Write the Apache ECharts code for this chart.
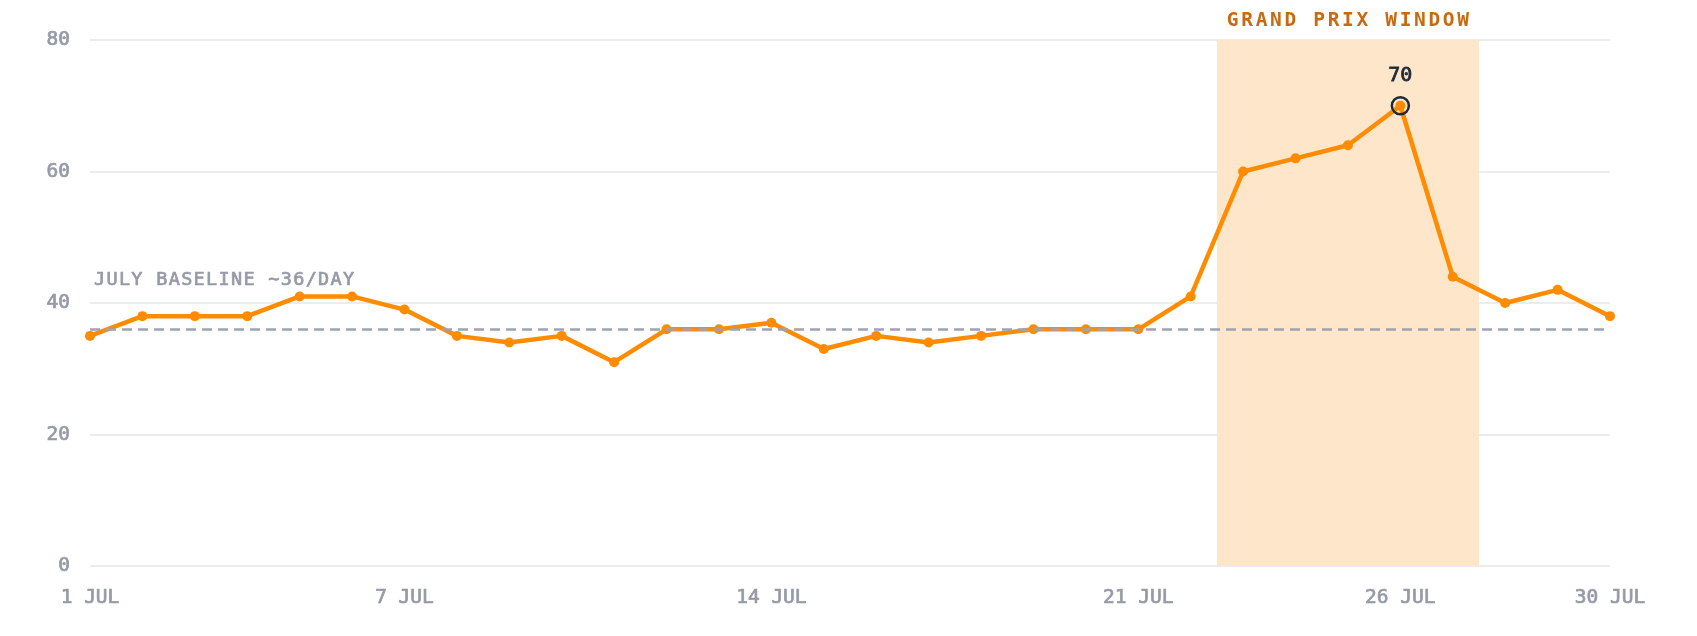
<!DOCTYPE html>
<html>
<head>
<meta charset="utf-8">
<script src="https://cdn.jsdelivr.net/npm/echarts@6/dist/echarts.min.js"></script>
<style>
  html, body { margin: 0; padding: 0; background: #ffffff; }
  #chart { width: 1697px; height: 636px; }
</style>
</head>
<body>
<div id="chart"></div>
<script>
// ---- Data ----
const days = [1, 2, 3, 4, 5, 6, 7, 8, 9, 10, 11, 12, 13, 14, 15, 16, 17, 18, 19, 20, 21, 22, 23, 24, 25, 26, 27, 28, 29, 30];
const dailyCounts = [35, 38, 38, 38, 41, 41, 39, 35, 34, 35, 31, 36, 36, 37, 33, 35, 34, 35, 36, 36, 36, 41, 60, 62, 64, 70, 44, 40, 42, 38];
const xTickDays = [1, 7, 14, 21, 26, 30];
const monthLabel = 'JUL';
const baselineValue = 36;
const baselineLabel = 'JULY BASELINE ~36/DAY';
const windowStart = 22.5;
const windowEnd = 27.5;
const windowLabel = 'GRAND PRIX WINDOW';
const peakDay = 26;
const peakValue = 70;

const FONT = '"DejaVu Sans Mono", "Liberation Mono", monospace';
const LABEL_GREY = '#959aa8';

function spaced(str, key) {
  return str.split('').map(c => '{' + key + '|' + c + '}').join('');
}

const chart = echarts.init(document.getElementById('chart'), null, { renderer: 'canvas' });

const option = {
  animation: false,
  backgroundColor: '#ffffff',
  grid: { left: 90, right: 87, top: 40, bottom: 70, containLabel: false, outerBoundsMode: 'none' },
  xAxis: {
    type: 'value',
    min: 1,
    max: 30,
    axisLine: { show: false },
    axisTick: { show: false },
    splitLine: { show: false },
    axisLabel: {
      customValues: xTickDays,
      formatter: v => v + ' ' + monthLabel,
      color: LABEL_GREY,
      textBorderColor: LABEL_GREY,
      textBorderWidth: 0.7,
      fontFamily: FONT,
      fontSize: 19.5,
      margin: 22
    }
  },
  yAxis: {
    type: 'value',
    min: 0,
    max: 80,
    interval: 20,
    axisLine: { show: false },
    axisTick: { show: false },
    splitLine: { lineStyle: { color: '#e4e6eb', width: 1.5 } },
    axisLabel: {
      color: LABEL_GREY,
      textBorderColor: LABEL_GREY,
      textBorderWidth: 0.7,
      fontFamily: FONT,
      fontSize: 19.5,
      margin: 20
    }
  },
  series: [
    {
      type: 'line',
      data: days.map((d, i) => [d, dailyCounts[i]]),
      symbol: 'circle',
      symbolSize: 10,
      lineStyle: { color: '#ff8c00', width: 4.5 },
      itemStyle: { color: '#ff8c00' },
      z: 3,
      markArea: {
        silent: true,
        itemStyle: { color: '#fee6cb' },
        label: {
          show: true,
          position: 'top',
          distance: 9,
          formatter: () => spaced(windowLabel, 'g'),
          rich: {
            g: { width: 14.4, fontFamily: FONT, fontSize: 19.5, fontWeight: 'bold', color: '#c96a0e' }
          }
        },
        data: [[{ xAxis: windowStart }, { xAxis: windowEnd }]]
      },
      markLine: {
        silent: true,
        symbol: 'none',
        lineStyle: { color: '#9ea3b3', width: 2.5, type: [10, 6] },
        label: {
          show: true,
          position: 'insideStartTop',
          distance: [4, 40],
          formatter: () => spaced(baselineLabel, 'b'),
          rich: {
            b: { width: 12.45, fontFamily: FONT, fontSize: 18.5, color: LABEL_GREY, textBorderColor: LABEL_GREY, textBorderWidth: 0.7 }
          }
        },
        data: [{ yAxis: baselineValue }]
      },
      markPoint: {
        silent: true,
        symbol: 'circle',
        symbolSize: 17,
        itemStyle: { color: 'rgba(0,0,0,0)', borderColor: '#1f2937', borderWidth: 2.5 },
        label: {
          show: true,
          position: 'top',
          distance: 10,
          formatter: p => String(p.value),
          color: '#1f2937',
          textBorderColor: '#1f2937',
          textBorderWidth: 0.8,
          fontFamily: FONT,
          fontSize: 20
        },
        data: [{ coord: [peakDay, peakValue], value: peakValue }]
      }
    }
  ]
};

chart.setOption(option);
</script>
</body>
</html>
